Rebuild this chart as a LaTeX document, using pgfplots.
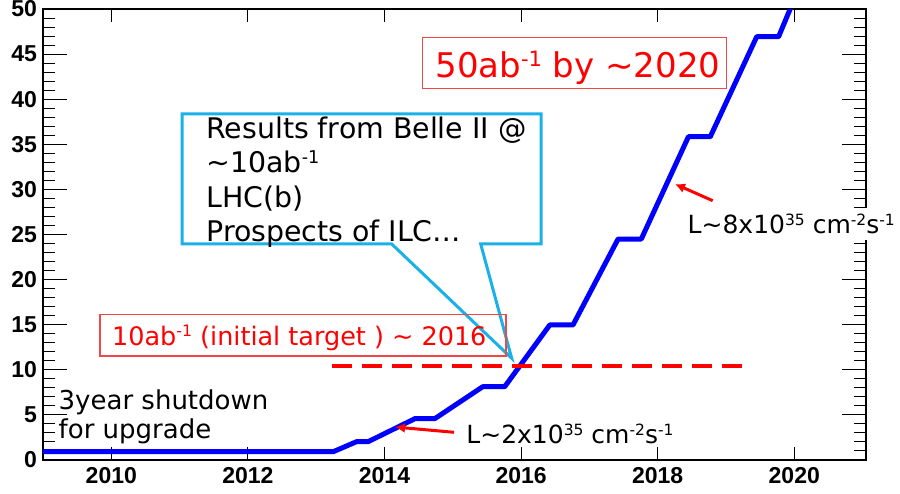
\documentclass[border=0pt]{standalone}
\usepackage{fontspec}
\setmainfont{DejaVu Sans}
\newfontfamily\tickfont{Liberation Sans}
\usepackage{graphicx}
\usepackage{pgfplots}
\pgfplotsset{compat=1.18}
\usetikzlibrary{arrows.meta}
\definecolor{callout}{HTML}{1AB0E8}
\definecolor{boxred}{HTML}{F04848}
\newcommand{\fs}[1]{\fontsize{#1}{#1}\selectfont}
\newcommand{\sups}[1]{\raisebox{0.33em}{\scalebox{0.62}{#1}}}
\begin{document}
\begin{tikzpicture}
\path[use as bounding box] (0,0) rectangle (450pt,246.5pt);
\begin{axis}[
  at={(21.5pt,16.5pt)}, anchor=south west,
  scale only axis, width=411.5pt, height=225.5pt,
  xmin=2009, xmax=2021.05, ymin=0, ymax=50,
  xtick={2010,2012,...,2020}, ytick={0,5,...,50},
  minor x tick num=3, minor y tick num=4,
  axis line style={line width=0.8pt, black},
  xtick style={line width=0.5pt, black, /pgfplots/major tick length=6.5pt, /pgfplots/minor tick length=3.5pt},
  ytick style={line width=0.5pt, black, /pgfplots/major tick length=12pt, /pgfplots/minor tick length=6pt},
  tick label style={font=\fontsize{11.5}{13}\tickfont\bfseries},
  /pgf/number format/assume math mode=true,
  x tick label style={/pgf/number format/1000 sep={}},
  yticklabel style={xshift=0.5pt},
]
\addplot[blue, line width=2.5pt, line join=round] coordinates {
(2009,0.92) (2013.25,0.92) (2013.59,2.03) (2013.76,2.03) (2014.45,4.6) (2014.74,4.6)
(2015.44,8.13) (2015.76,8.13) (2016.42,14.97) (2016.76,14.97) (2017.42,24.5) (2017.76,24.5)
(2018.45,35.84) (2018.77,35.84) (2019.45,46.93) (2019.77,46.93) (2020.05,52)
};
\addplot[red, line width=2.2pt, dash pattern=on 10pt off 5pt] coordinates {(2013.23,10.45) (2019.26,10.45)};
\end{axis}
\begin{scope}[x=0.5pt, y=-0.5pt, yshift=246.5pt]
  % callout
  \draw[callout, line width=1.5pt, line join=miter] (182,114) -- (541,114) -- (541,244) -- (480.7,244) -- (511.7,358.3) -- (391.7,244) -- (182,244) -- cycle;
  \node[anchor=base west, inner sep=0pt, font=\fs{14.2}] at (206,138.3) {Results from Belle II @};
  \node[anchor=base west, inner sep=0pt, font=\fs{14.2}] at (206,172.7) {\textasciitilde10ab\sups{-1}};
  \node[anchor=base west, inner sep=0pt, font=\fs{14.2}] at (206,208) {LHC(b)};
  \node[anchor=base west, inner sep=0pt, font=\fs{14.2}] at (206,241.7) {Prospects of ILC…};
  % 50 ab box
  \draw[boxred, line width=0.75pt] (422.7,37.3) rectangle (726.7,88.3);
  \node[anchor=base west, inner sep=0pt, font=\fs{17}, text=red] at (435,77.3) {50ab\sups{-1} by \textasciitilde2020};
  % 10 ab box
  \draw[boxred, line width=0.75pt] (100,314.3) rectangle (506,356);
  \node[anchor=base west, inner sep=0pt, font=\fs{12.75}, text=red] at (111.7,345) {10ab\sups{-1} (initial target ) \textasciitilde{} 2016};
  % shutdown text
  \node[anchor=base west, inner sep=0pt, font=\fs{13}] at (58.3,409.3) {3year shutdown};
  \node[anchor=base west, inner sep=0pt, font=\fs{13}] at (58.3,438.3) {for upgrade};
  % luminosity labels
  \node[anchor=base west, inner sep=0pt, font=\fs{12.5}] at (466,443.3) {L\textasciitilde2x10\sups{35} cm\sups{-2}s\sups{-1}};
  \node[anchor=base west, inner xsep=0pt, inner ysep=3pt, fill=white, font=\fs{12.5}] at (687.3,234) {L\textasciitilde8x10\sups{35} cm\sups{-2}s\sups{-1}};
  % arrows
  \draw[red, line width=1.5pt, -{Latex[length=5pt,width=5pt]}] (454,432.3) -- (395,427);
  \draw[red, line width=1.5pt, -{Latex[length=5pt,width=5pt]}] (712.7,200.7) -- (675,184);
\end{scope}
\end{tikzpicture}
\end{document}
